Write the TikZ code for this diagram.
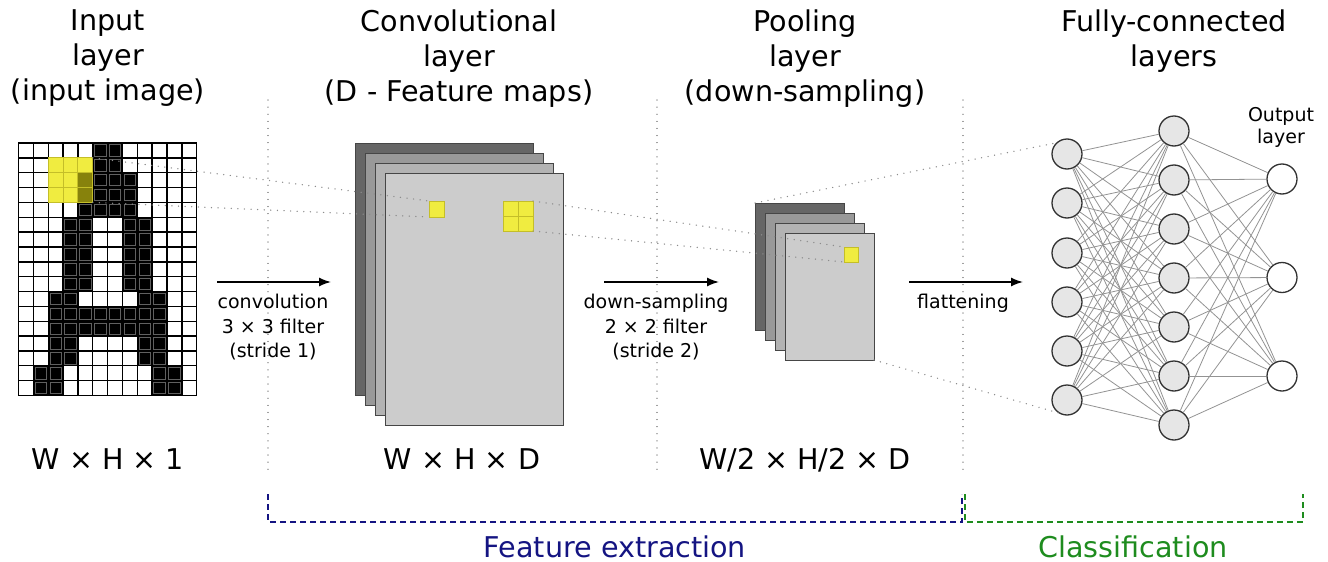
\documentclass[tikz,border=0pt]{standalone}
\usepackage{fontspec}
\setmainfont{DejaVu Sans}
\usetikzlibrary{arrows.meta}
\definecolor{yel}{RGB}{240,236,64}
\definecolor{yelline}{RGB}{196,190,40}
\definecolor{oliv}{RGB}{135,130,12}
\definecolor{navyc}{RGB}{20,20,130}
\definecolor{grn}{RGB}{30,140,30}
\definecolor{c1}{RGB}{102,102,102}
\definecolor{c2}{RGB}{153,153,153}
\definecolor{c3}{RGB}{179,179,179}
\definecolor{c4}{RGB}{204,204,204}
\definecolor{nodefill}{RGB}{230,230,230}
\definecolor{ncol}{RGB}{50,50,50}
\definecolor{rectline}{RGB}{70,70,70}
\begin{document}
\begin{tikzpicture}[x=1pt,y=-1pt,
  big/.style={font=\fontsize{28.6}{34}\selectfont, anchor=base, inner sep=0},
  small/.style={font=\fontsize{19}{23}\selectfont, anchor=base, inner sep=0},
  fmap/.style={draw=rectline, line width=1, inner sep=0, outer sep=0, anchor=north west},
  ysq/.style={draw=yelline, fill=yel, line width=1, inner sep=0, outer sep=0, anchor=north west},
  neuron/.style={circle, draw=ncol, fill=nodefill, line width=1.3, minimum size=30, inner sep=0},
  outneuron/.style={neuron, fill=white},
  conn/.style={draw=gray!85, line width=0.8},
  dotl/.style={draw=gray!90, line width=1.4, line cap=round, dash pattern=on 0.1 off 6.5},
  sepl/.style={draw=gray!90, line width=1.1, line cap=round, dash pattern=on 0.1 off 7},
  arr/.style={line width=1.5, -{Latex[length=12,width=9]}},
  brk/.style={line width=1.6, dash pattern=on 6 off 4},
]
\useasboundingbox (0,0) rectangle (1328,562);
\def\s{14.85}
% input grid
\foreach \c in {0,...,11}
  \foreach \r in {0,...,16}
    \draw[black, line width=1.4, fill=white] ({18.5+\c*\s},{143+\r*\s}) rectangle ++(\s,\s);
\foreach \r/\cols in {0/{5,6},1/{5,6},2/{4,5,6,7},3/{4,5,6,7},4/{4,5,6,7},
  5/{3,4,7,8},6/{3,4,7,8},7/{3,4,7,8},8/{3,4,7,8},9/{3,4,7,8},
  10/{2,3,8,9},11/{2,3,4,5,6,7,8,9},12/{2,3,4,5,6,7,8,9},
  13/{2,3,8,9},14/{2,3,8,9},15/{1,2,9,10},16/{1,2,9,10}}{
  \foreach \c in \cols {
    \fill[black] ({18.5+\c*\s},{143+\r*\s}) rectangle ++(\s,\s);
    \draw[gray!75!black, line width=0.8] ({18.5+\c*\s+1.7},{143+\r*\s+1.7}) rectangle ++({\s-3.4},{\s-3.4});
  }
}
% yellow filter window
\foreach \c/\r/\col in {2/1/yel,3/1/yel,4/1/yel,2/2/yel,3/2/yel,4/2/oliv,2/3/yel,3/3/yel,4/3/oliv}
  \draw[fill=\col, draw=yelline, line width=0.9] ({18.5+\c*\s},{143+\r*\s}) rectangle ++(\s,\s);
\coordinate (inTR) at ({18.5+5*\s},{143+1*\s});
\coordinate (inBR) at ({18.5+5*\s},{143+4*\s});
% convolutional feature maps
\node[fmap, fill=c1, minimum width=178, minimum height=252] (cv1) at (355,143) {};
\node[fmap, fill=c2, minimum width=178, minimum height=252] (cv2) at (365,153) {};
\node[fmap, fill=c3, minimum width=178, minimum height=252] (cv3) at (375,163) {};
\node[fmap, fill=c4, minimum width=178, minimum height=252] (cv4) at (385,173) {};
\node[ysq, minimum width=15, minimum height=16] (cs) at (429,201) {};
\node[ysq, minimum width=30, minimum height=30] (cb) at (503,201) {};
\draw[yelline, line width=0.9] (cb.north) -- (cb.south) (cb.west) -- (cb.east);
% pooling maps
\node[fmap, fill=c1, minimum width=89, minimum height=127] (pl1) at (755,203) {};
\node[fmap, fill=c2, minimum width=89, minimum height=127] (pl2) at (765,213) {};
\node[fmap, fill=c3, minimum width=89, minimum height=127] (pl3) at (775,223) {};
\node[fmap, fill=c4, minimum width=89, minimum height=127] (pl4) at (785,233) {};
\node[ysq, minimum width=14, minimum height=15] (ps) at (844,247) {};
% fully connected
\foreach \y [count=\k] in {154,203,253,302,351,400}
  \node[neuron] (a\k) at (1067,\y) {};
\foreach \y [count=\k] in {131,180,229,278,327,376,425}
  \node[neuron] (b\k) at (1174,\y) {};
\foreach \y [count=\k] in {179,277.5,376}
  \node[outneuron] (o\k) at (1282,\y) {};
\foreach \i in {1,...,6}
  \foreach \j in {1,...,7}
    \draw[conn] (a\i) -- (b\j);
\foreach \i in {1,...,7}
  \foreach \j in {1,...,3}
    \draw[conn] (b\i) -- (o\j);
% dotted projections
\draw[dotl] (inTR) -- (cs.north west);
\draw[dotl] (inBR) -- (cs.south west);
\draw[dotl] (cb.north east) -- (ps.north west);
\draw[dotl] (cb.south east) -- (ps.south west);
\draw[dotl] (pl1.north west) -- (a1.north west);
\draw[dotl] (pl4.south east) -- (a6.235);
% separators
\coordinate (s1t) at (268,100); \coordinate (s1b) at (268,470);
\coordinate (s2t) at (657,100); \coordinate (s2b) at (657,470);
\coordinate (s3t) at (963,100); \coordinate (s3b) at (963,470);
\draw[sepl] (s1t) -- (s1b);
\draw[sepl] (s2t) -- (s2b);
\draw[sepl] (s3t) -- (s3b);
% arrows
\coordinate (ar1a) at (217,282); \coordinate (ar1b) at (331,282);
\coordinate (ar2a) at (604,282); \coordinate (ar2b) at (719,282);
\coordinate (ar3a) at (909,282); \coordinate (ar3b) at (1023,282);
\draw[arr] (ar1a) -- (ar1b);
\draw[arr] (ar2a) -- (ar2b);
\draw[arr] (ar3a) -- (ar3b);
\node[small] (l1a) at (273,308) {convolution};
\node[small] (l1b) at (273,333) {3 × 3 filter};
\node[small] (l1c) at (273,357) {(stride 1)};
\node[small] (l2a) at (656,308) {down-sampling};
\node[small] (l2b) at (656,333) {2 × 2 filter};
\node[small] (l2c) at (656,357) {(stride 2)};
\node[small] (l3a) at (963,308) {flattening};
\node[small] (ol1) at (1281,121) {Output};
\node[small] (ol2) at (1281,143) {layer};
% titles
\node[big] (t1a) at (108,30) {Input};
\node[big] (t1b) at (108,65) {layer};
\node[big] (t1c) at (108,100) {(input image)};
\node[big] (t2a) at (459,31) {Convolutional};
\node[big] (t2b) at (459,66) {layer};
\node[big] (t2c) at (459,101) {(D - Feature maps)};
\node[big] (t3a) at (805,31) {Pooling};
\node[big] (t3b) at (805,66) {layer};
\node[big] (t3c) at (805,101) {(down-sampling)};
\node[big] (t4a) at (1174,31) {Fully-connected};
\node[big] (t4b) at (1174,66) {layers};
% dimensions
\node[big] (d1) at (108,469) {W × H × 1};
\node[big] (d2) at (462,469) {W × H × D};
\node[big] (d3) at (805,469) {W/2 × H/2 × D};
% brackets
\draw[brk, navyc] (268,494) -- (268,522) -- (962,522) -- (962,494);
\draw[brk, grn] (965,494) -- (965,522) -- (1303,522) -- (1303,494);
\node[big, text=navyc] (fe) at (615,557) {Feature extraction};
\node[big, text=grn] (cl) at (1133,557) {Classification};
\end{tikzpicture}
\end{document}
